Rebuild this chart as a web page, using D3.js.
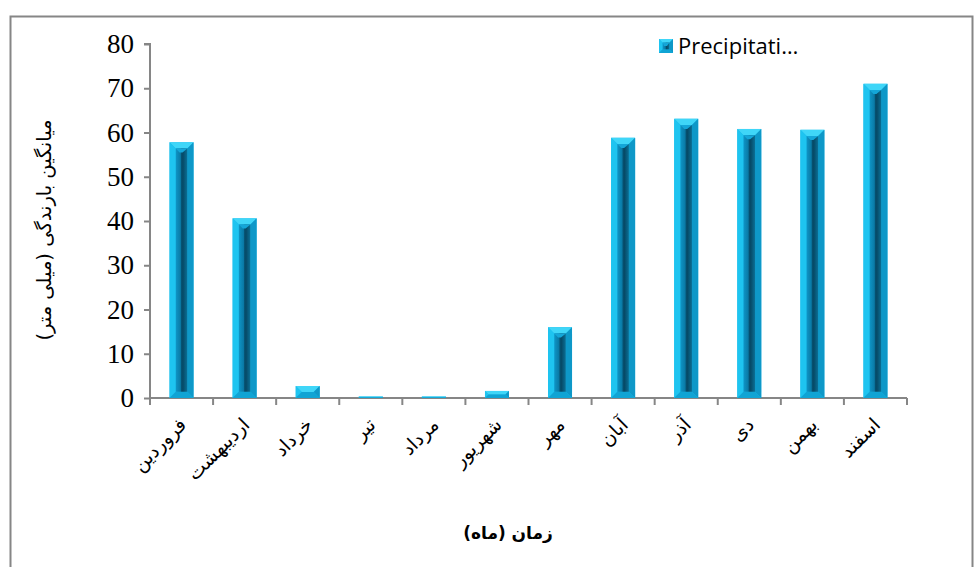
<!DOCTYPE html>
<html>
<head>
<meta charset="utf-8">
<script src="https://cdn.jsdelivr.net/npm/d3@7"></script>
<style>
  html, body { margin: 0; padding: 0; background: #fff; }
  svg { display: block; }
</style>
</head>
<body>
<svg id="chart" width="974" height="567"></svg>
<script>
// Monthly mean precipitation (mm), Persian calendar months
const months = ["فروردین", "اردیبهشت", "خرداد", "تیر", "مرداد", "شهریور", "مهر", "آبان", "آذر", "دی", "بهمن", "اسفند"];
const precipitation = [57.8, 40.6, 2.7, 0.3, 0.3, 1.6, 16.0, 58.8, 63.1, 60.8, 60.6, 71.0];
const yTicks = [0, 10, 20, 30, 40, 50, 60, 70, 80];
const seriesName = "Precipitati…";
const yTitle = "میانگین بارندگی (میلی متر)";
const xTitle = "زمان (ماه)";

const svg = d3.select("#chart");
const axisColor = "#868686";

// chart area frame
svg.append("rect")
  .attr("x", 10.5).attr("y", 16.5)
  .attr("width", 962).attr("height", 570)
  .attr("fill", "none").attr("stroke", axisColor).attr("stroke-width", 2);

const plot = { left: 150, right: 907, top: 44, bottom: 398 };

const x = d3.scaleBand().domain(months).range([plot.left, plot.right]).paddingInner(0.62).paddingOuter(0.31);
const xOuter = d3.scaleBand().domain(months).range([plot.left, plot.right]);
const y = d3.scaleLinear().domain([0, 80]).range([plot.bottom, plot.top]);

// gradient for the recessed centre of each bar
const defs = svg.append("defs");
const inner = defs.append("linearGradient").attr("id", "innerGrad").attr("x1", 0).attr("x2", 1).attr("y1", 0).attr("y2", 0);
inner.append("stop").attr("offset", "0%").attr("stop-color", "#0e95c6");
inner.append("stop").attr("offset", "40%").attr("stop-color", "#0a7aa6");
inner.append("stop").attr("offset", "50%").attr("stop-color", "#06506f");
inner.append("stop").attr("offset", "62%").attr("stop-color", "#064a67");
inner.append("stop").attr("offset", "100%").attr("stop-color", "#0b6f95");

// y axis
const yAxis = d3.axisLeft(y).tickValues(yTicks).tickSize(6).tickPadding(10).tickFormat(d3.format("d"));
const gy = svg.append("g").attr("transform", `translate(${plot.left},0)`).call(yAxis);
gy.select(".domain").attr("stroke", axisColor).attr("stroke-width", 2).attr("d", `M-6,${plot.top}H0V${plot.bottom}`);
gy.selectAll(".tick line").attr("stroke", axisColor).attr("stroke-width", 2);
gy.selectAll(".tick text").attr("fill", "#000").attr("font-family", "'Liberation Serif', 'Times New Roman', serif").attr("font-size", 27);

// x axis with ticks on band boundaries
const gx = svg.append("g").attr("transform", `translate(0,${plot.bottom})`);
gx.append("path").attr("d", `M${plot.left},0H${plot.right}`).attr("stroke", axisColor).attr("stroke-width", 2).attr("fill", "none");
const bounds = months.map(m => xOuter(m)).concat([plot.right]);
gx.selectAll("line.tk").data(bounds).join("line")
  .attr("x1", d => d).attr("x2", d => d).attr("y1", 0).attr("y2", 7)
  .attr("stroke", axisColor).attr("stroke-width", 2);
gx.selectAll("text.lbl").data(months).join("text")
  .attr("class", "lbl")
  .attr("transform", d => `translate(${xOuter(d) + xOuter.bandwidth() / 2 + 6},${28}) rotate(-45)`)
  .attr("text-anchor", "start")
  .attr("direction", "rtl")
  .attr("font-family", "'DejaVu Sans', sans-serif")
  .attr("font-size", 19)
  .attr("fill", "#000")
  .text(d => d);

// bevelled bars
function drawBar(g, bx, by, bw, bh) {
  const b = Math.min(bw * 0.26, bh / 2);
  g.append("rect").attr("x", bx).attr("y", by).attr("width", bw).attr("height", bh).attr("fill", "#1ab8e8");
  // top bevel
  g.append("path").attr("d", `M${bx},${by}H${bx + bw}L${bx + bw - b},${by + b}H${bx + b}Z`).attr("fill", "#3fd6f8");
  // left bevel
  g.append("path").attr("d", `M${bx},${by}L${bx + b},${by + b}V${by + bh - b}L${bx},${by + bh}Z`).attr("fill", "#1ec4f0");
  // right bevel
  g.append("path").attr("d", `M${bx + bw},${by}L${bx + bw - b},${by + b}V${by + bh - b}L${bx + bw},${by + bh}Z`).attr("fill", "#0e98c8");
  // bottom bevel
  g.append("path").attr("d", `M${bx},${by + bh}H${bx + bw}L${bx + bw - b},${by + bh - b}H${bx + b}Z`).attr("fill", "#10a4d4");
  if (bh > 2 * b + 2) {
    g.append("rect").attr("x", bx + b).attr("y", by + b).attr("width", bw - 2 * b).attr("height", bh - 2 * b)
      .attr("fill", "url(#innerGrad)");
    const ib = Math.min(4, (bh - 2 * b) / 2);
    g.append("path").attr("d", `M${bx + b},${by + b}H${bx + bw - b}L${bx + bw / 2 + 1},${by + b + ib}H${bx + bw / 2 - 2}Z`).attr("fill", "#14a6d8");
  }
}

const bars = svg.append("g");
months.forEach((m, i) => {
  const v = precipitation[i];
  const top = y(v);
  const h = Math.max(plot.bottom - top, 1.5);
  drawBar(bars, x(m), plot.bottom - h, x.bandwidth(), h);
});

// legend
const leg = svg.append("g");
drawBar(leg, 659, 39, 14, 14);
leg.append("text").attr("x", 678).attr("y", 54)
  .attr("font-family", "'Open Sans', 'Noto Sans', sans-serif").attr("font-size", 22).attr("fill", "#000")
  .text(seriesName);

// axis titles
svg.append("text")
  .attr("transform", `translate(51,${230}) rotate(-90)`)
  .attr("text-anchor", "middle").attr("direction", "rtl")
  .attr("font-family", "'DejaVu Sans', sans-serif").attr("font-size", 19.5)
  .attr("fill", "#000")
  .text(yTitle);

svg.append("text")
  .attr("x", 508).attr("y", 539)
  .attr("text-anchor", "middle").attr("direction", "rtl")
  .attr("font-family", "'DejaVu Sans', sans-serif").attr("font-size", 17).attr("font-weight", "bold")
  .attr("fill", "#000")
  .text(xTitle);
</script>
</body>
</html>
